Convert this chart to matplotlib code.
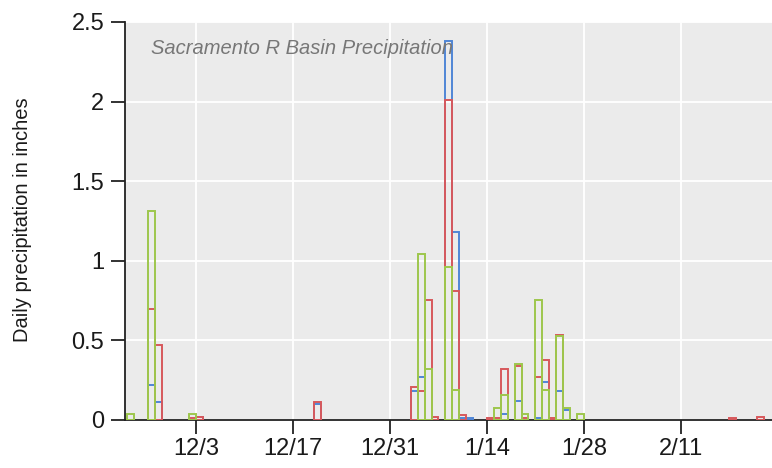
import matplotlib
matplotlib.use("Agg")
import matplotlib.pyplot as plt
import matplotlib.dates as mdates
from matplotlib.ticker import FuncFormatter, MultipleLocator
from datetime import datetime, timedelta

# ---- data ----
dates = ["2016-11-23", "2016-11-26", "2016-11-27", "2016-12-02", "2016-12-03",
         "2016-12-20", "2017-01-03", "2017-01-04", "2017-01-05", "2017-01-06",
         "2017-01-08", "2017-01-09", "2017-01-10", "2017-01-11", "2017-01-14",
         "2017-01-15", "2017-01-16", "2017-01-18", "2017-01-19", "2017-01-21",
         "2017-01-22", "2017-01-23", "2017-01-24", "2017-01-25", "2017-01-27",
         "2017-02-18", "2017-02-22"]
blue = [0, 0.22, 0.11, 0, 0.02, 0.10, 0.18, 0.27, 0, 0, 2.38, 1.18, 0.01, 0.01, 0,
        0, 0.04, 0.12, 0, 0.01, 0.24, 0, 0.18, 0.06, 0, 0, 0]
red = [0, 0.70, 0.47, 0.01, 0.02, 0.11, 0.21, 0.18, 0.755, 0.02, 2.01, 0.81, 0.03, 0, 0.01,
       0.01, 0.32, 0.34, 0.01, 0.27, 0.38, 0.01, 0.535, 0, 0, 0.01, 0.02]
green = [0.04, 1.31, 0, 0.04, 0, 0, 0, 1.04, 0.32, 0, 0.96, 0.19, 0, 0, 0,
         0.075, 0.16, 0.35, 0.04, 0.755, 0.19, 0, 0.525, 0.075, 0.04, 0, 0]
tick_dates = ["2016-12-03", "2016-12-17", "2016-12-31", "2017-01-14", "2017-01-28", "2017-02-11"]
title = "Sacramento R Basin Precipitation"
ylabel = "Daily precipitation in inches"

series = [(blue, "#4f86d6"), (red, "#d7585c"), (green, "#9dc74c")]

fig = plt.figure(figsize=(7.72, 4.68), dpi=100)
W, H = 772, 468
ax = fig.add_axes([125 / W, (H - 420) / H, (772 - 125) / W, (420 - 22) / H])
ax.set_facecolor("#ebebeb")

xd = [mdates.date2num(datetime.strptime(d, "%Y-%m-%d")) for d in dates]
for vals, col in series:
    xs = [x for x, v in zip(xd, vals) if v > 0]
    vs = [v for v in vals if v > 0]
    ax.bar(xs, vs, width=1.0, align="edge", fill=False, edgecolor=col,
           linewidth=1.4, zorder=3)

base = mdates.date2num(datetime(2016, 12, 3))
ax.set_xlim(base - 10.3, base + 83.2)
ax.set_ylim(0, 2.5)

ticks = [mdates.date2num(datetime.strptime(d, "%Y-%m-%d")) for d in tick_dates]
ax.set_xticks(ticks)
ax.xaxis.set_major_formatter(FuncFormatter(
    lambda v, p: f"{mdates.num2date(v).month}/{mdates.num2date(v).day}"))
ax.yaxis.set_major_locator(MultipleLocator(0.5))
ax.yaxis.set_major_formatter(FuncFormatter(lambda v, p: f"{v:g}"))

ax.grid(True, color="white", linewidth=1.3, zorder=0)
ax.set_axisbelow(True)
for s in ["top", "right"]:
    ax.spines[s].set_visible(False)
for s in ["left", "bottom"]:
    ax.spines[s].set_linewidth(1.3)
    ax.spines[s].set_color("#222222")

ax.tick_params(axis="both", length=10, width=1.3, color="#222222",
               labelsize=17, labelcolor="#1a1a1a")
ax.tick_params(axis="x", pad=3)
ax.tick_params(axis="y", pad=5)
for lab in ax.get_xticklabels() + ax.get_yticklabels():
    lab.set_fontfamily("Liberation Sans")

fig.text(23 / W, 1 - 220 / H, ylabel, rotation=90, ha="center", va="center",
         fontsize=14.5, family="Liberation Sans", color="#1a1a1a")
ax.text(151 / W, 1 - 48.5 / H, title, transform=fig.transFigure, ha="left", va="center",
        fontsize=14.5, style="italic", family="Liberation Sans", color="#777777", zorder=5)

fig.savefig("out.png", dpi=100)
